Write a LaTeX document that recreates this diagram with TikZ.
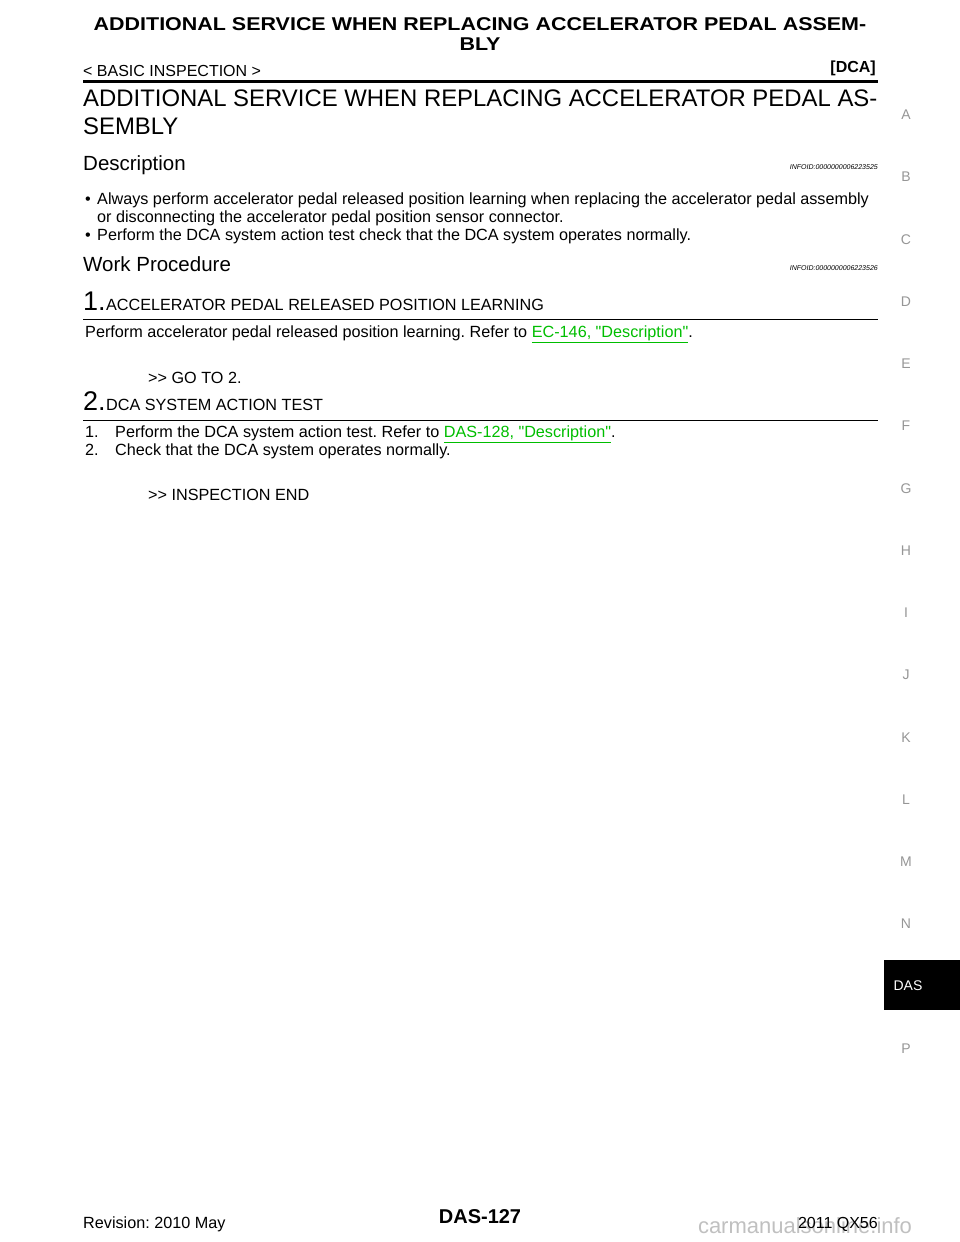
\documentclass[tikz,border=0pt]{standalone}
\usepackage{fontspec}
\setmainfont{Liberation Sans}[Ligatures=TeXOff]
\definecolor{lnk}{RGB}{0,190,0}
\definecolor{side}{RGB}{150,150,150}
\newcommand{\qq}{\symbol{34}}
\newcommand{\dgt}{\symbol{62}\symbol{62}}
\begin{document}
\frenchspacing
\begin{tikzpicture}[x=1pt,y=-1pt,
 t/.style={inner sep=0pt,anchor=base west,font=\fontsize{16.2}{18}\selectfont},
 sl/.style={inner sep=0pt,anchor=base,text=side,font=\fontsize{14}{16}\selectfont}]
\useasboundingbox[fill=white] (0,0) rectangle (960,1242);
\node[inner sep=0pt,anchor=base,font=\bfseries\fontsize{18.5}{20}\selectfont] (h1) at (480,30) {\scalebox{1.16}[1]{ADDITIONAL SERVICE WHEN REPLACING ACCELERATOR PEDAL ASSEM-}};
\node[inner sep=0pt,anchor=base,font=\bfseries\fontsize{18.5}{20}\selectfont] (h2) at (480,50) {\scalebox{1.16}[1]{BLY}};
\node[t,font=\fontsize{16}{18}\selectfont] (bi) at (83,76) {< BASIC INSPECTION >};
\node[inner sep=0pt,anchor=base east,font=\bfseries\fontsize{16}{18}\selectfont] (dca) at (876,72) {[DCA]};
\draw[line width=2.5pt] (83,81.5) -- (878,81.5);
\node[t,font=\fontsize{23.9}{26}\selectfont] (ti1) at (83,106) {ADDITIONAL SERVICE WHEN REPLACING ACCELERATOR PEDAL AS-};
\node[t,font=\fontsize{23.9}{26}\selectfont] (ti2) at (83,134) {SEMBLY};
\node[t,font=\fontsize{20.5}{24}\selectfont] (desc) at (83,170) {Description};
\node[inner sep=0pt,anchor=base east,font=\itshape\fontsize{7}{8}\selectfont] (if1) at (878,169) {INFOID:0000000006223525};
\node[t] (b1m) at (85,204) {•};
\node[t] (b1) at (97,204) {Always perform accelerator pedal released position learning when replacing the accelerator pedal assembly};
\node[t] (b1b) at (97,222) {or disconnecting the accelerator pedal position sensor connector.};
\node[t] (b2m) at (85,240) {•};
\node[t] (b2) at (97,240) {Perform the DCA system action test check that the DCA system operates normally.};
\node[t,font=\fontsize{20.5}{24}\selectfont] (wp) at (83,271) {Work Procedure};
\node[inner sep=0pt,anchor=base east,font=\itshape\fontsize{7}{8}\selectfont] (if2) at (878,270) {INFOID:0000000006223526};
\node[t,font=\fontsize{27}{30}\selectfont] (n1) at (83,310) {1.};
\node[t] (s1) at (n1.base east) {ACCELERATOR PEDAL RELEASED POSITION LEARNING};
\draw[line width=0.8pt] (83,319.5) -- (878,319.5);
\node[t] (p1) at (85,337) {Perform accelerator pedal released position learning. Refer to \textcolor{lnk}{\underline{EC-146, \qq Description\qq}}.};
\node[t] (g2) at (148,383) {\dgt{} GO TO 2.};
\node[t,font=\fontsize{27}{30}\selectfont] (n2) at (83,410) {2.};
\node[t] (s2) at (n2.base east) {DCA SYSTEM ACTION TEST};
\draw[line width=0.8pt] (83,420) -- (878,420);
\node[t] (i1n) at (85,437) {1.};
\node[t] (i1) at (115,437) {Perform the DCA system action test. Refer to \textcolor{lnk}{\underline{DAS-128, \qq Description\qq}}.};
\node[t] (i2n) at (85,455) {2.};
\node[t] (i2) at (115,455) {Check that the DCA system operates normally.};
\node[t] (ie) at (148,500) {\dgt{} INSPECTION END};
\foreach \l/\y in {A/119,B/181,C/244,D/306,E/368,F/430,G/493,H/555,I/617,J/679,K/742,L/804,M/866,N/928,P/1053}
  \node[sl] (side\l) at (906,\y) {\l};
\fill (884,960) rectangle (960,1010);
\node[sl,text=white] (das) at (908,990) {DAS};
\node[t] (rev) at (83,1228) {Revision: 2010 May};
\node[inner sep=0pt,anchor=base,font=\bfseries\fontsize{20}{24}\selectfont] (pg) at (480,1223) {DAS-127};
\node[inner sep=0pt,anchor=base,text=side!60,font=\fontsize{22}{24}\selectfont] (wm) at (805,1233) {carmanualsonline.info};
\node[inner sep=0pt,anchor=base east] (yr) at (878,1228) {\fontsize{16}{18}\selectfont 2011 QX56};
\end{tikzpicture}
\end{document}
